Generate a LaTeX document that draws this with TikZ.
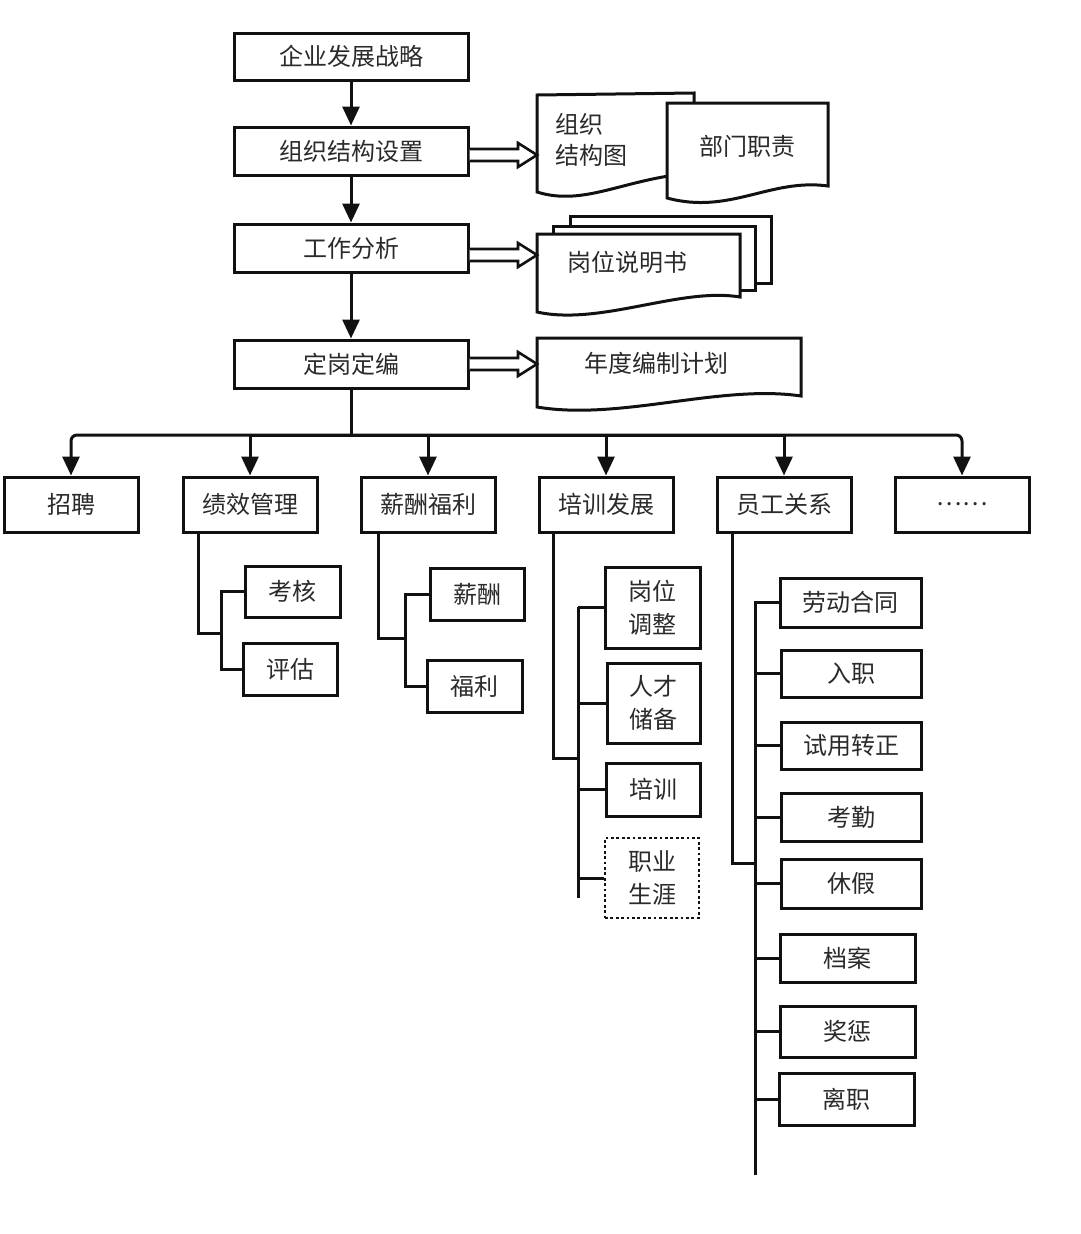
\documentclass[tikz,border=0pt]{standalone}
\usepackage{fontspec}
\newfontfamily\cjk{Noto Sans CJK SC}
\usetikzlibrary{arrows.meta,calc}
\definecolor{ink}{HTML}{111111}
\definecolor{txt}{HTML}{2a2a2a}
\newcommand\bx[7][]{\node[box,#1,minimum width={(#5-#3)*1pt},minimum height={(#6-#4)*1pt}] (#2) at ({(#3+#5)/2},{(#4+#6)/2}) {#7};}
\newcommand\harr[3]{%
  \coordinate (tip) at ($(#1.east -| #2.west)+(0,#3)$);
  \draw[harrow] ($(#1.east)+(0,#3-6)$) -- ($(tip)+(-19,-6)$) -- ($(tip)+(-19,-12)$) -- (tip)
     -- ($(tip)+(-19,12)$) -- ($(tip)+(-19,6)$) -- ($(#1.east)+(0,#3+6)$);}
\begin{document}
\begin{tikzpicture}[x=1pt,y=-1pt,
  line/.style={draw=ink,line width=3pt},
  arr/.style={line,-{Triangle[width=17pt,length=19pt]}},
  box/.style={draw=ink,line width=3pt,fill=white,inner sep=0pt,font=\cjk\fontsize{24}{33}\selectfont,text=txt,align=center},
  lbl/.style={inner sep=0pt,font=\cjk\fontsize{24}{31}\selectfont,text=txt},
  doc/.style={draw=ink,line width=3pt,fill=white,line join=miter},
  harrow/.style={draw=ink,line width=2.6pt,fill=white,line join=miter},
  dotbox/.style={line width=2.8pt,dash pattern=on 2.8pt off 2.6pt},
  ghost/.style={inner sep=0pt,outer sep=0pt,draw=none}
]
\useasboundingbox (0,0) rectangle (1080,1234);
\fill[white] (0,0) rectangle (1080,1234);

% main chain
\bx{s1}{234}{33}{468}{80}{企业发展战略}
\bx{s2}{234}{127}{468}{175}{组织结构设置}
\bx{s3}{234}{224}{468}{272}{工作分析}
\bx{s4}{234}{340}{468}{388}{定岗定编}
\draw[arr] (s1.south) -- (s2.north);
\draw[arr] (s2.south) -- (s3.north);
\draw[arr] (s3.south) -- (s4.north);

% documents
\node[ghost,minimum width=157pt,minimum height=98pt] (d1) at (615.5,143.5) {};
\node[ghost,minimum width=161pt,minimum height=95pt] (d2) at (747.5,150.5) {};
\node[ghost,minimum width=203pt,minimum height=78pt] (d3) at (638.5,273) {};
\node[ghost,minimum width=264pt,minimum height=69pt] (d4) at (669,372.5) {};

\draw[doc] (537,192) .. controls (585,207) and (625,178) .. (694,173) -- (694,93) -- (537,95) -- cycle;
\draw[doc] (667,198) -- (667,103) -- (828,103) -- (828,186) .. controls (770,178) and (730,215) .. (667,198) -- cycle;
\draw[doc] (570,216) rectangle (771,283);
\draw[doc] (553,226) rectangle (755,290);
\draw[doc] (537,312) -- (537,234) -- (740,234) -- (740,297) .. controls (680,287) and (600,326) .. (537,312) -- cycle;
\draw[doc] (537,407) -- (537,338) -- (801,338) -- (801,396) .. controls (720,384) and (620,421) .. (537,407) -- cycle;

\node[lbl,anchor=west,align=left] (t_d1) at (555,140) {组织\\结构图};
\node[lbl] (t_d2) at (747,146) {部门职责};
\node[lbl] (t_d3) at (627,262) {岗位说明书};
\node[lbl] (t_d4) at (656,363) {年度编制计划};

\harr{s2}{d1}{4}
\harr{s3}{d3}{7}
\harr{s4}{d4}{0}

% bus
\coordinate (bus) at (351,435);
\draw[line] (s4.south) -- (bus);
\bx{r1}{4}{477}{138}{532}{招聘}
\bx{r2}{183}{477}{317}{532}{绩效管理}
\bx{r3}{361}{477}{495}{532}{薪酬福利}
\bx{r4}{539}{477}{673}{532}{培训发展}
\bx{r5}{717}{477}{851}{532}{员工关系}
\bx{r6}{895}{477}{1029}{532}{……}
\draw[arr,rounded corners=6pt] (bus) -| (r1.north);
\draw[arr,rounded corners=6pt] (bus) -| (r6.north);
\foreach \r in {r2,r3,r4,r5} \draw[arr] (bus) -| (\r.north);

% 绩效管理
\bx{kh}{245}{566}{340}{617}{考核}
\bx{pg}{243}{643}{337}{695}{评估}
\coordinate (jxj) at (221,633);
\draw[line] ($(r2.south west)+(17,0)$) |- (jxj);
\draw[line] (kh.west) -| (jxj) |- (pg.west);

% 薪酬福利
\bx{xc}{430}{568}{524}{620}{薪酬}
\bx{fl}{427}{660}{522}{712}{福利}
\coordinate (xfj) at (405,638);
\draw[line] ($(r3.south west)+(19,0)$) |- (xfj);
\draw[line] (xc.west) -| (xfj) |- (fl.west);

% 培训发展
\bx{t1}{605}{567}{700}{648}{岗位\\调整}
\bx{t2}{607}{663}{700}{743}{人才\\储备}
\bx{t3}{606}{763}{700}{816}{培训}
\bx[dotbox]{t4}{605}{838}{699}{918}{职业\\生涯}
\coordinate (ttop) at (578,607);
\coordinate (tbot) at (578,898);
\coordinate (tj) at (578,758);
\draw[line] (ttop) -- (tbot);
\draw[line] ($(r4.south west)+(16,0)$) |- (tj);
\foreach \t in {t1,t2,t3,t4} \draw[line] (\t.west -| ttop) -- (\t.west);

% 员工关系
\bx{e1}{780}{578}{921}{627}{劳动合同}
\bx{e2}{781}{650}{921}{697}{入职}
\bx{e3}{781}{722}{921}{769}{试用转正}
\bx{e4}{781}{793}{921}{841}{考勤}
\bx{e5}{781}{859}{921}{908}{休假}
\bx{e6}{780}{934}{915}{982}{档案}
\bx{e7}{780}{1006}{915}{1057}{奖惩}
\bx{e8}{779}{1073}{914}{1125}{离职}
\coordinate (etop) at (755,601);
\coordinate (ebot) at (755,1175);
\coordinate (ej) at (755,863);
\draw[line] (etop) -- (ebot);
\draw[line] ($(r5.south west)+(17,0)$) |- (ej);
\foreach \e in {e1,e2,e3,e4,e5,e6,e7,e8} \draw[line] (\e.west -| etop) -- (\e.west);
\end{tikzpicture}
\end{document}
